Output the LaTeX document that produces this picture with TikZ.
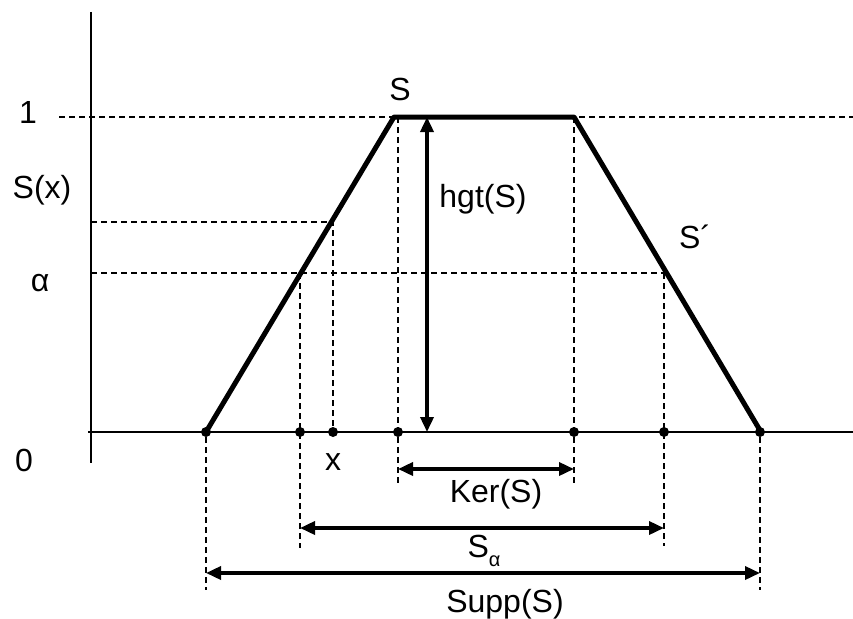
\documentclass[tikz,border=0pt]{standalone}
\usepackage{fontspec}
\setmainfont{Liberation Sans}
\usetikzlibrary{arrows.meta,positioning}
\tikzset{
  dashline/.style={dash pattern=on 6pt off 4pt, line width=1.4pt},
  edgeline/.style={line width=5pt, line join=round},
  axisline/.style={line width=1.8pt},
  dimarrow/.style={line width=3.5pt, {Triangle[length=15pt,width=13pt]}-{Triangle[length=15pt,width=13pt]}},
  dot/.style={circle, fill, inner sep=0pt, minimum size=10pt},
  lbl/.style={font=\fontsize{32}{36}\selectfont, inner sep=0pt}
}
\begin{document}
\begin{tikzpicture}[x=1pt, y=-1pt]
\useasboundingbox (0,0) rectangle (853,618);
        \path
        (91,12) coordinate (ytop)
        (91,463) coordinate (ybot)
        (88,432) coordinate (xleft)
        (853,432) coordinate (xright)
        (206,432) coordinate (A)
        (394,117) coordinate (B)
        (574,117) coordinate (C)
        (761,432) coordinate (D)
        (59,117) coordinate (one)
        (853,117) coordinate (oneend)
        (91,222) coordinate (sx)
        (333,222) coordinate (sxe)
        (91,273) coordinate (al)
        (300,273) coordinate (alL)
        (664,273) coordinate (alR)
        (398,117) coordinate (kerL)
        (427,117) coordinate (hgtT)
        (427,432) coordinate (hgtB)
        ;

        % points on the x axis
        \node[dot] (pA) at (206,432) {};
        \node[dot] (pL) at (300,432) {};
        \node[dot] (px) at (333,432) {};
        \node[dot] (pK) at (398,432) {};
        \node[dot] (pC) at (574,432) {};
        \node[dot] (pR) at (664,432) {};
        \node[dot] (pD) at (760,432) {};

        % ends of the dashed guides
        \path
        (398,486) coordinate (kK)
        (574,486) coordinate (kC)
        (300,548) coordinate (kL)
        (664,546) coordinate (kR)
        (206,590) coordinate (kA)
        (760,590) coordinate (kD)
        ;

        \draw[dashline] (one) -- (oneend);
        \draw[dashline] (sx) -- (sxe) -- (px);
        \draw[dashline] (al) -- (alR);
        \draw[dashline] (alL) -- (kL);
        \draw[dashline] (alR) -- (kR);
        \draw[dashline] (kerL) -- (kK);
        \draw[dashline] (C) -- (kC);
        \draw[dashline] (pA) -- (kA);
        \draw[dashline] (pD) -- (kD);

        \draw[axisline] (ytop) -- (ybot);
        \draw[axisline] (xleft) -- (xright);

        \draw[edgeline] (A) -- (B) -- (C) -- (D);

        \draw[dimarrow] (hgtB) -- (hgtT);
        \draw[dimarrow] (398,469) coordinate (k1) -- (574,469) coordinate (k2);
        \draw[dimarrow] (300,528) coordinate (s1) -- (664,528) coordinate (s2);
        \draw[dimarrow] (206,573) coordinate (u1) -- (760,573) coordinate (u2);

        \node[lbl] (l1) at (28,112) {1};
        \node[lbl] (l0) at (24,460) {0};
        \node[lbl] (lsx) at (42,190) {S(x)};
        \node[lbl] (lal) at (40,283) {α};
        \node[lbl] (lS) at (400,89) {S};
        \node[lbl] (lhgt) at (483,199) {hgt(S)};
        \node[lbl] (lS2) at (695,237) {S´};
        \node[lbl] (lx) at (333,462) {x};
        \node[lbl] (lker) at (496,494) {Ker(S)};
        \node[lbl] (lsa) at (484,551) {S\raisebox{-0.3em}{\fontsize{20}{21}\selectfont α}};
        \node[lbl] (lsupp) at (505,604) {Supp(S)};
\end{tikzpicture}
\end{document}
